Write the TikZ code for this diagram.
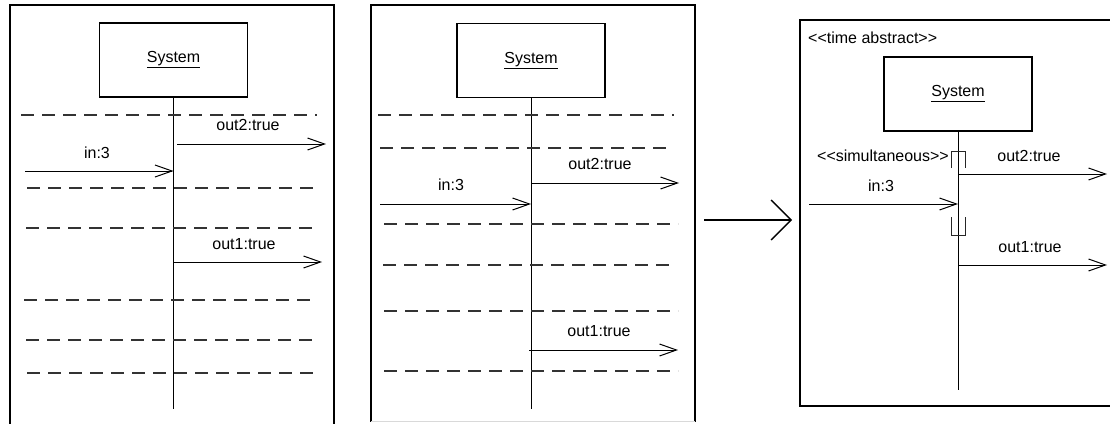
\documentclass[tikz,border=0pt]{standalone}
\usepackage{fontspec}
\setmainfont{Liberation Sans}
\usetikzlibrary{arrows.meta}
% guillemet-free stereotype brackets
\newcommand{\stopen}{<\kern0pt<}
\newcommand{\stclose}{>\kern0pt>}
\begin{document}
\begin{tikzpicture}[x=1pt,y=-1pt,
  every node/.style={font=\fontsize{16}{19}\selectfont, inner sep=0pt},
  frame/.style={line width=1.4pt},
  lifebox/.style={draw, line width=1.2pt, minimum width=148pt, minimum height=74pt, inner sep=0pt},
  lifeline/.style={line width=1pt},
  msg/.style={line width=1pt, -{Straight Barb[length=17pt,width=12pt,line width=1pt]}},
  bigarrow/.style={line width=1.3pt, -{Straight Barb[length=20pt,width=40pt,line width=1.3pt]}},
  sep/.style={line width=1.3pt, dash pattern=on 13pt off 8pt, black!80},
  bracket/.style={line width=1pt, black!85}]
\useasboundingbox (0,0) rectangle (1110,423);

% ---------- left panel ----------
\draw[frame] (10,430) -- (10,5) -- (334,5) -- (334,430);
\node[lifebox] (sysA) at (173.5,60) {\underline{System}};
\coordinate (endA) at (173.5,409);
\draw[lifeline] (sysA.south) -- (endA);
\foreach \y/\a/\b in {115/21/317, 188/27/320, 228/26/318, 300/24/317, 340/26/318, 373/27/320}
  \draw[sep] (\a,\y) -- (\b,\y);
\coordinate (inAs) at (25,171);   \coordinate (inAe) at (173.5,171);
\coordinate (o2As) at (177,144);  \coordinate (o2Ae) at (326,144);
\coordinate (o1As) at (173.5,262);\coordinate (o1Ae) at (322,262);
\draw[msg] (inAs) -- (inAe);
\draw[msg] (o2As) -- (o2Ae);
\draw[msg] (o1As) -- (o1Ae);
\node (inA)  at (97,153)  {in:3};
\node (o2A)  at (248,125) {out2:true};
\node (o1A)  at (244,244) {out1:true};

% ---------- middle panel ----------
\draw[frame] (371,421.5) -- (371,5) -- (695,5) -- (695,421.5);
\draw[line width=1.2pt, black!15] (371,421.5) -- (695,421.5);
\node[lifebox] (sysB) at (531,60.5) {\underline{System}};
\coordinate (endB) at (531,409);
\draw[lifeline] (sysB.south) -- (endB);
\foreach \y/\a/\b in {115/378/674, 148/380/673, 224/384/678, 265/383/676, 311/384/678, 371/384/678}
  \draw[sep] (\a,\y) -- (\b,\y);
\coordinate (inBs) at (380,204);  \coordinate (inBe) at (531,204);
\coordinate (o2Bs) at (531,183);  \coordinate (o2Be) at (679,183);
\coordinate (o1Bs) at (529,350);  \coordinate (o1Be) at (678,350);
\draw[msg] (inBs) -- (inBe);
\draw[msg] (o2Bs) -- (o2Be);
\draw[msg] (o1Bs) -- (o1Be);
\node (inB)  at (451,185) {in:3};
\node (o2B)  at (600,164) {out2:true};
\node (o1B)  at (599,331) {out1:true};

% ---------- transformation arrow ----------
\coordinate (tfs) at (704,220);
\coordinate (tfe) at (792,220);
\draw[bigarrow] (tfs) -- (tfe);

% ---------- right panel ----------
\draw[frame] (1115,20) -- (800,20) -- (800,406) -- (1115,406);
\node[anchor=west] (ta) at (808,38) {\stopen time abstract\stclose};
\node[lifebox] (sysC) at (958,94) {\underline{System}};
\coordinate (endC) at (958,390);
\draw[lifeline] (sysC.south) -- (endC);
% simultaneity region brackets
\draw[bracket] (951,168) -- (951,151) -- (965,151) -- (965,168);
\draw[bracket] (951,217) -- (951,235) -- (965,235) -- (965,217);
\node[anchor=east] (sim) at (949,156) {\stopen simultaneous\stclose};
\coordinate (inCs) at (809,204);  \coordinate (inCe) at (958,204);
\coordinate (o2Cs) at (958,174);  \coordinate (o2Ce) at (1107,174);
\coordinate (o1Cs) at (958,265);  \coordinate (o1Ce) at (1107,265);
\draw[msg] (inCs) -- (inCe);
\draw[msg] (o2Cs) -- (o2Ce);
\draw[msg] (o1Cs) -- (o1Ce);
\node (inC)  at (881,186) {in:3};
\node (o2C)  at (1029,156) {out2:true};
\node (o1C)  at (1030,247) {out1:true};
\end{tikzpicture}
\end{document}
